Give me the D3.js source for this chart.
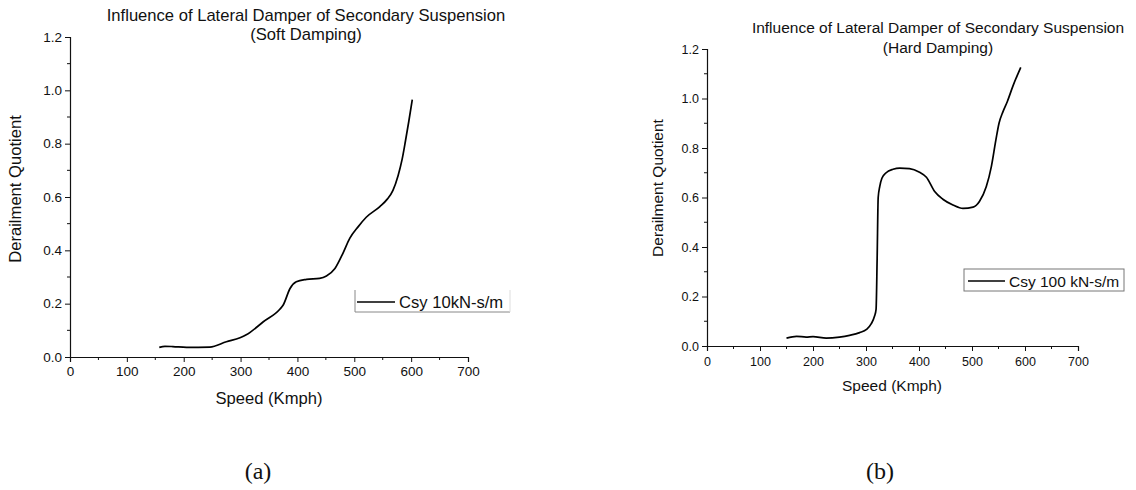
<!DOCTYPE html>
<html>
<head>
<meta charset="utf-8">
<script src="https://cdn.jsdelivr.net/npm/d3@7"></script>
<style>
  html, body { margin: 0; padding: 0; background: #fff; }
  svg { display: block; }
  text { font-family: "Liberation Sans", Arial, sans-serif; fill: #111; }
</style>
</head>
<body>
<svg id="chart" width="1136" height="490"></svg>
<script>
// ---- Data ----
const xTicks = [0, 100, 200, 300, 400, 500, 600, 700];
const yTicks = [0.0, 0.2, 0.4, 0.6, 0.8, 1.0, 1.2];

const softSpeed = [157, 167, 181, 205, 246, 275, 299, 310, 340, 369, 375, 387, 398, 416, 439, 451, 466, 480, 492, 507, 521, 545, 558, 568, 577, 584, 590, 596, 602];
const softDQ    = [0.036, 0.040, 0.039, 0.036, 0.037, 0.057, 0.072, 0.083, 0.132, 0.179, 0.195, 0.257, 0.282, 0.291, 0.295, 0.304, 0.332, 0.389, 0.445, 0.489, 0.524, 0.564, 0.592, 0.625, 0.68, 0.74, 0.81, 0.885, 0.965];

const hardSpeed = [150, 169, 187, 200, 225, 250, 269, 288, 301, 310, 316, 319, 321, 323, 326, 330, 338, 351, 363.5, 382, 401, 414, 429.6, 445, 464, 483, 502, 514, 527, 536.5, 545, 551, 558.5, 566.7, 577, 592];
const hardDQ    = [0.032, 0.039, 0.036, 0.038, 0.032, 0.036, 0.043, 0.054, 0.067, 0.090, 0.120, 0.148, 0.35, 0.60, 0.645, 0.678, 0.700, 0.714, 0.719, 0.717, 0.702, 0.682, 0.624, 0.593, 0.570, 0.556, 0.561, 0.584, 0.644, 0.725, 0.832, 0.90, 0.947, 0.988, 1.049, 1.126];

const panels = [
  {
    title1: "Influence of Lateral Damper of Secondary Suspension",
    title2: "(Soft Damping)",
    legend: "Csy 10kN-s/m",
    caption: "(a)",
    xs: softSpeed, ys: softDQ,
    x0: 70, x1: 468, y0: 357, y1: 37,
    fs: 16.6, tfs: 13.5, xPad: 4,
    titleX: 306, titleY1: 20.5, titleY2: 39.5,
    yLabX: 15.5, yLabY: 189,
    xLabX: 269, xLabY: 404,
    capX: 258, capY: 479,
    leg: { x: 355, y: 290, w: 155, h: 22, fullBox: false, lx1: 357, lx2: 395, tx: 399 }
  },
  {
    title1: "Influence of Lateral Damper of Secondary Suspension",
    title2: "(Hard Damping)",
    legend: "Csy 100 kN-s/m",
    caption: "(b)",
    xs: hardSpeed, ys: hardDQ,
    x0: 707, x1: 1078, y0: 346, y1: 49,
    fs: 15.5, tfs: 12.5, xPad: 6,
    titleX: 938, titleY1: 32.5, titleY2: 53,
    yLabX: 657.5, yLabY: 188,
    xLabX: 892, xLabY: 391,
    capX: 880, capY: 479,
    leg: { x: 964, y: 269, w: 160, h: 22, fullBox: true, lx1: 968, lx2: 1005, tx: 1009 }
  }
];

const svg = d3.select("#chart");

panels.forEach(p => {
  const g = svg.append("g");
  const x = d3.scaleLinear().domain([0, 700]).range([p.x0, p.x1]);
  const y = d3.scaleLinear().domain([0, 1.2]).range([p.y0, p.y1]);

  // minor ticks
  const xMinor = d3.range(50, 700, 100);
  const yMinor = d3.range(0.1, 1.2, 0.2);
  g.append("g").selectAll("line").data(xMinor).join("line")
    .attr("x1", d => x(d)).attr("x2", d => x(d))
    .attr("y1", p.y0).attr("y2", p.y0 + 3)
    .attr("stroke", "#111").attr("stroke-width", 1);
  g.append("g").selectAll("line").data(yMinor).join("line")
    .attr("x1", p.x0 - 3).attr("x2", p.x0)
    .attr("y1", d => y(d)).attr("y2", d => y(d))
    .attr("stroke", "#111").attr("stroke-width", 1);

  // x axis
  const xAxis = g.append("g").attr("transform", `translate(0,${p.y0})`)
    .call(d3.axisBottom(x).tickValues(xTicks).tickFormat(d3.format("d")).tickSizeOuter(0).tickSize(5).tickPadding(p.xPad));
  // y axis
  const yAxis = g.append("g").attr("transform", `translate(${p.x0},0)`)
    .call(d3.axisLeft(y).tickValues(yTicks).tickFormat(d3.format(".1f")).tickSizeOuter(0).tickSize(5).tickPadding(3));

  [xAxis, yAxis].forEach(a => {
    a.select(".domain").attr("stroke", "#111").attr("stroke-width", 1.2);
    a.selectAll(".tick line").attr("stroke", "#111").attr("stroke-width", 1);
    a.selectAll(".tick text")
      .attr("font-family", '"Liberation Sans", Arial, sans-serif')
      .attr("font-size", p.tfs).attr("fill", "#1a1a1a");
  });

  // line
  const line = d3.line()
    .x((d, i) => x(p.xs[i]))
    .y((d, i) => y(p.ys[i]))
    .curve(d3.curveMonotoneX);
  g.append("path")
    .datum(p.xs)
    .attr("d", line)
    .attr("fill", "none")
    .attr("stroke", "#000")
    .attr("stroke-width", 1.7);

  // titles
  g.append("text").attr("x", p.titleX).attr("y", p.titleY1)
    .attr("text-anchor", "middle").attr("font-size", p.fs).text(p.title1);
  g.append("text").attr("x", p.titleX).attr("y", p.titleY2)
    .attr("text-anchor", "middle").attr("font-size", p.fs).text(p.title2);

  // axis labels
  g.append("text")
    .attr("transform", `translate(${p.yLabX + p.fs * 0.35},${p.yLabY}) rotate(-90)`)
    .attr("text-anchor", "middle").attr("font-size", p.fs).text("Derailment Quotient");
  g.append("text").attr("x", p.xLabX).attr("y", p.xLabY)
    .attr("text-anchor", "middle").attr("font-size", p.fs).text("Speed (Kmph)");

  // legend
  const L = p.leg;
  if (L.fullBox) {
    g.append("rect").attr("x", L.x).attr("y", L.y).attr("width", L.w).attr("height", L.h)
      .attr("fill", "none").attr("stroke", "#777").attr("stroke-width", 1);
  } else {
    g.append("path")
      .attr("d", `M${L.x},${L.y} V${L.y + L.h} H${L.x + L.w}`)
      .attr("fill", "none").attr("stroke", "#888").attr("stroke-width", 1);
    g.append("line").attr("x1", L.x + L.w).attr("x2", L.x + L.w)
      .attr("y1", L.y).attr("y2", L.y + L.h)
      .attr("stroke", "#ddd").attr("stroke-width", 1);
  }
  g.append("line").attr("x1", L.lx1).attr("x2", L.lx2)
    .attr("y1", L.y + L.h / 2 + 1).attr("y2", L.y + L.h / 2 + 1)
    .attr("stroke", "#000").attr("stroke-width", 1.6);
  g.append("text").attr("x", L.tx).attr("y", L.y + L.h / 2 + p.fs * 0.36 + 1)
    .attr("font-size", p.fs).text(p.legend);

  // caption
  g.append("text").attr("x", p.capX).attr("y", p.capY)
    .attr("text-anchor", "middle")
    .style("font-family", '"Liberation Serif", "Times New Roman", serif')
    .attr("font-size", 24).text(p.caption);
});
</script>
</body>
</html>
